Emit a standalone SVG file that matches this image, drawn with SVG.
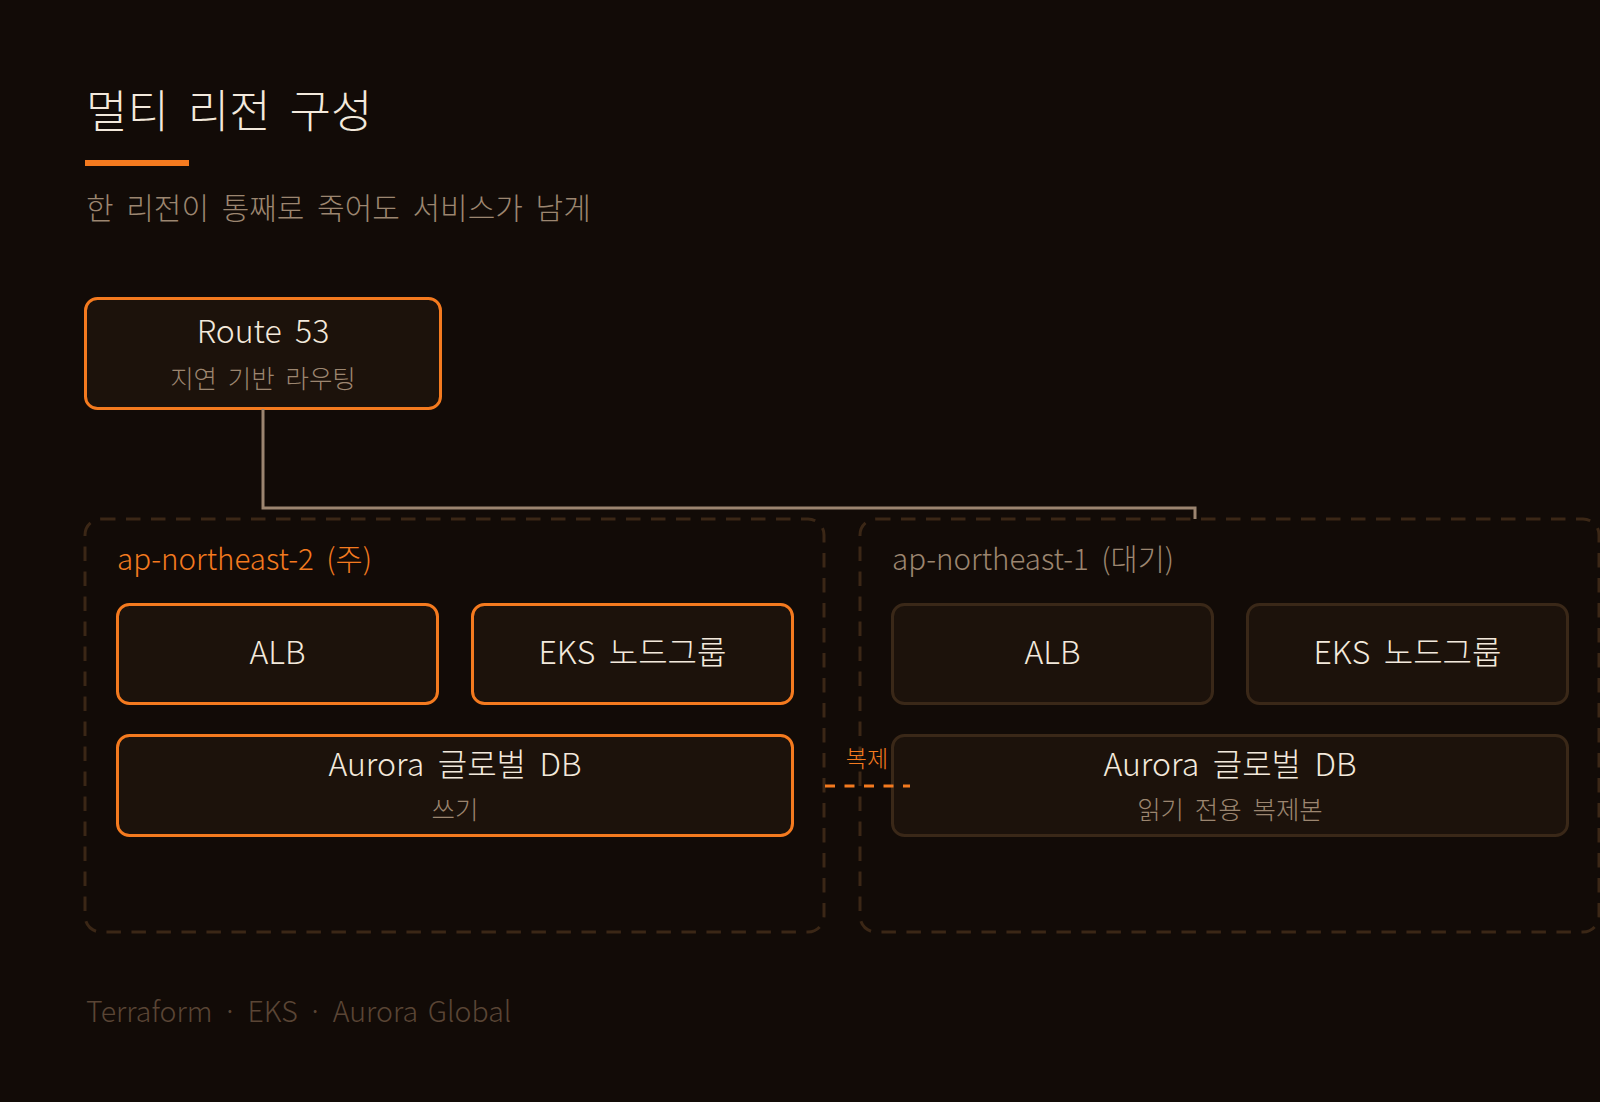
<svg xmlns="http://www.w3.org/2000/svg" width="1600" height="1102" viewBox="0 0 1600 1102">
<style>
text{font-family:"Noto Sans CJK KR","Noto Sans",sans-serif;font-weight:300;word-spacing:0.2em;}
.title{font-size:45px;fill:#f3e9dc;}
.sub{font-size:30px;fill:#9c8670;}
.lbl{font-size:32px;fill:#f3e9dc;text-anchor:middle;}
.lbl2{font-size:25.5px;fill:#9c8670;text-anchor:middle;}
.region{fill:none;stroke:#3b2716;stroke-width:3;stroke-dasharray:14.5 10.5;}
.on{fill:#1c120b;stroke:#f47a1f;stroke-width:3;}
.off{fill:#1c120b;stroke:#3a2818;stroke-width:3;}
.rlbl{font-size:29.5px;}
.foot{font-size:28.5px;fill:#5a4535;word-spacing:0.12em;}
</style>
<rect x="0" y="0" width="1600" height="1102" fill="#120b07"/>
<g id="header">
<text class="title" x="86" y="128">멀티 리전 구성</text>
<rect x="85" y="160" width="104" height="6" fill="#f47a1f"/>
<text class="sub" x="86" y="219">한 리전이 통째로 죽어도 서비스가 남게</text>
</g>
<g id="route53">
<rect class="on" x="85.5" y="298.5" width="355" height="110" rx="12"/>
<text class="lbl" x="263" y="343" font-size="30">Route 53</text>
<text class="lbl2" x="263" y="388">지연 기반 라우팅</text>
</g>
<g id="region-primary">
<rect class="region" x="85" y="519" width="739" height="413" rx="16"/>
<text class="rlbl" x="117" y="570" fill="#f47a1f">ap-northeast-2 (주)</text>
</g>
<g id="region-standby">
<rect class="region" x="860" y="519" width="739" height="413" rx="16"/>
<text class="rlbl" x="892" y="570" fill="#9c8670">ap-northeast-1 (대기)</text>
</g>
<g id="alb-primary">
<rect class="on" x="117.5" y="604.5" width="320" height="99" rx="12"/>
<text class="lbl" x="277.5" y="664">ALB</text>
</g>
<g id="eks-primary">
<rect class="on" x="472.5" y="604.5" width="320" height="99" rx="12"/>
<text class="lbl" x="632.5" y="664">EKS 노드그룹</text>
</g>
<g id="aurora-primary">
<rect class="on" x="117.5" y="735.5" width="675" height="100" rx="12"/>
<text class="lbl" x="455" y="776">Aurora 글로벌 DB</text>
<text class="lbl2" x="455" y="819">쓰기</text>
</g>
<g id="alb-standby">
<rect class="off" x="892.5" y="604.5" width="320" height="99" rx="12"/>
<text class="lbl" x="1052.5" y="664">ALB</text>
</g>
<g id="eks-standby">
<rect class="off" x="1247.5" y="604.5" width="320" height="99" rx="12"/>
<text class="lbl" x="1407.5" y="664">EKS 노드그룹</text>
</g>
<g id="aurora-standby">
<rect class="off" x="892.5" y="735.5" width="675" height="100" rx="12"/>
<text class="lbl" x="1230" y="776">Aurora 글로벌 DB</text>
<text class="lbl2" x="1230" y="819">읽기 전용 복제본</text>
</g>
<g id="connectors">
<path d="M263 409 V508 H1195 V519" fill="none" stroke="#9c8570" stroke-width="3"/>
<line x1="825" y1="786" x2="910" y2="786" stroke="#f47a1f" stroke-width="3" stroke-dasharray="10 9.5"/>
<text x="867" y="767" font-size="23" fill="#f47a1f" text-anchor="middle">복제</text>
</g>
<g id="footer">
<text class="foot" x="86" y="1022">Terraform · EKS · Aurora Global</text>
</g>
</svg>
